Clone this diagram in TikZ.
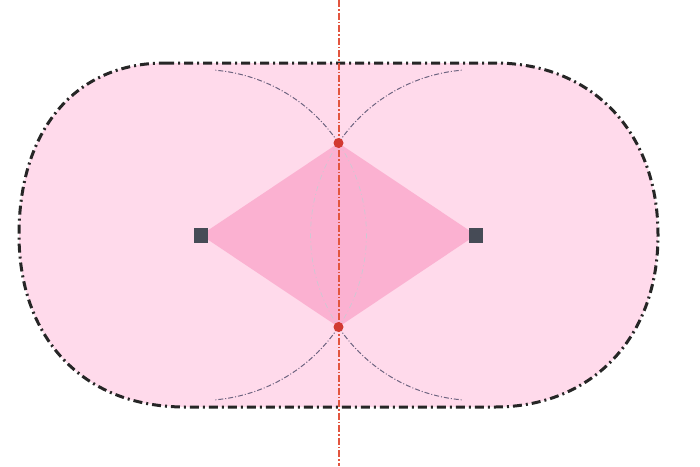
\documentclass[tikz,border=0pt]{standalone}
\usetikzlibrary{calc}
\definecolor{stadfill}{HTML}{FFDAEB}
\definecolor{diafill}{HTML}{FBB1D1}
\definecolor{sqcol}{HTML}{464B56}
\definecolor{dotcol}{HTML}{D23A32}
\definecolor{axiscol}{HTML}{E2553F}
\definecolor{arccol}{HTML}{6E6480}
\tikzset{
  stadium/.style={fill=stadfill, draw=black!85, line width=3pt,
    dash pattern=on 9pt off 4pt on 2pt off 4pt},
  diamondfill/.style={fill=diafill, draw=none},
  guidearc/.style={draw=arccol, line width=1pt, dash pattern=on 5pt off 2pt on 1pt off 2pt},
  faintarc/.style={draw=arccol!35, line width=0.7pt, dash pattern=on 5pt off 3pt on 1pt off 3pt},
  axisline/.style={draw=axiscol, line width=1.1pt, dash pattern=on 7pt off 2pt on 1.5pt off 2pt},
  endsq/.style={fill=sqcol, draw=none, minimum width=14pt, minimum height=15pt, inner sep=0pt, outer sep=0pt},
  crosspt/.style={circle, fill=dotcol, draw=none, minimum size=10pt, inner sep=0pt},
}
\begin{document}
\begin{tikzpicture}[x=1pt,y=-1pt]
\useasboundingbox (0,0) rectangle (700,466);
% stadium outline
\path[stadium] (165,63) -- (495,63)
  .. controls (590,63) and (658,130) .. (658,235)
  .. controls (658,340) and (590,407) .. (495,407)
  -- (185,407)
  .. controls (80,407) and (19,335) .. (19,235)
  .. controls (19,130) and (75,63) .. (165,63) -- cycle;
% coordinates
\coordinate (c1) at (201,235);
\coordinate (c2) at (476,235);
\coordinate (t) at (338.5,143);
\coordinate (b) at (338.5,327);
% diamond
\path[diamondfill] (c1) -- (t) -- (c2) -- (b) -- cycle;
% faint lens arcs
\draw[faintarc] (t) arc[start angle=-33.79, end angle=33.79, radius=165.44];
\draw[faintarc] (t) arc[start angle=-146.21, end angle=-213.79, radius=165.44];
% guide arcs
\draw[guidearc] (t) arc[start angle=-33.79, end angle=-85, radius=165.44];
\draw[guidearc] (t) arc[start angle=-146.21, end angle=-95, radius=165.44];
\draw[guidearc] (b) arc[start angle=33.79, end angle=85, radius=165.44];
\draw[guidearc] (b) arc[start angle=146.21, end angle=95, radius=165.44];
% axis
\coordinate (axtop) at (339,0);
\coordinate (axbot) at (339,466);
\draw[axisline] (axtop) -- (axbot);
% markers
\node[endsq] (sq1) at (c1) {};
\node[endsq] (sq2) at (c2) {};
\node[crosspt] (p1) at (t) {};
\node[crosspt] (p2) at (b) {};
\end{tikzpicture}
\end{document}
